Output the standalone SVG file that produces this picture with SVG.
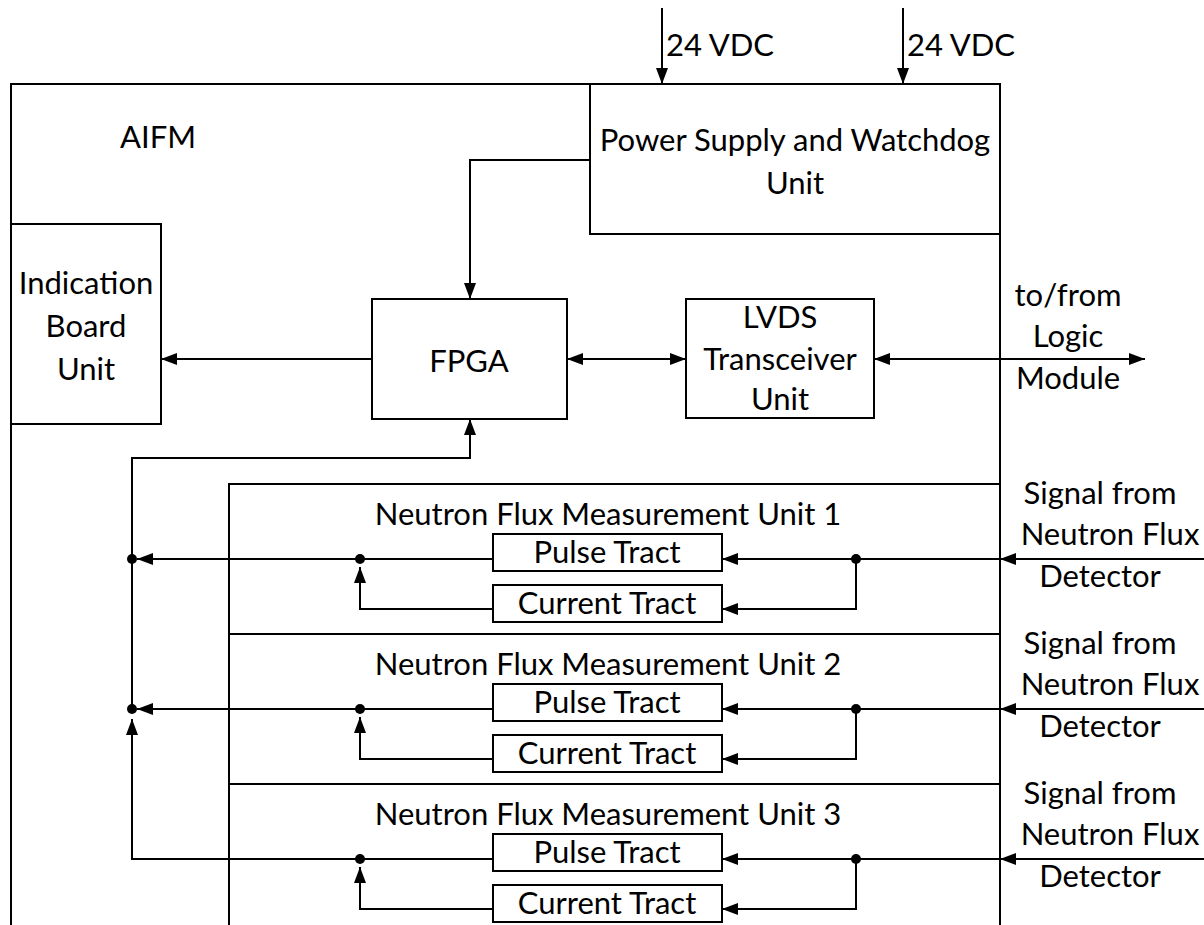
<svg xmlns="http://www.w3.org/2000/svg" width="1204" height="925" viewBox="0 0 1204 925">
<defs>
<style>
.ln{fill:none;stroke:#000;stroke-width:2}
.bx{fill:#fff;stroke:#000;stroke-width:2}
.t{font-family:Lato,"Open Sans","Liberation Sans",sans-serif;font-size:31px;fill:#000}
.c{text-anchor:middle}
.dot{fill:#000}
</style>
<marker id="ah" markerUnits="userSpaceOnUse" markerWidth="16" markerHeight="12" refX="16" refY="6" orient="auto-start-reverse">
<path d="M0,0 L16,6 L0,12 z" fill="#000"/>
</marker>
</defs>
<rect width="1204" height="925" fill="#fff"/>
<g id="aifm">
<path class="ln" d="M11,925 V84 H1000 V925"/>
<text class="t" x="120" y="148">AIFM</text>
</g>
<g id="psu">
<rect class="bx" x="590" y="84" width="410" height="150"/>
<text class="t c" x="795" y="151">Power Supply and Watchdog</text>
<text class="t c" x="795" y="194">Unit</text>
</g>
<g id="indication">
<rect class="bx" x="11" y="224" width="150" height="200"/>
<text class="t c" x="86" y="294">Indication</text>
<text class="t c" x="86" y="337">Board</text>
<text class="t c" x="86" y="380">Unit</text>
</g>
<g id="fpga">
<rect class="bx" x="372" y="299" width="195" height="120"/>
<text class="t c" x="469" y="372">FPGA</text>
</g>
<g id="lvds">
<rect class="bx" x="686" y="299" width="188" height="119"/>
<text class="t c" x="780" y="328">LVDS</text>
<text class="t c" x="780" y="370">Transceiver</text>
<text class="t c" x="780" y="410">Unit</text>
</g>
<g id="unit1">
<path class="ln" d="M229,634 V484 H1000"/>
<text class="t c" x="608" y="525">Neutron Flux Measurement Unit 1</text>
<rect class="bx" x="493" y="534" width="229" height="37"/>
<text class="t c" x="607" y="563">Pulse Tract</text>
<rect class="bx" x="493" y="585" width="229" height="37"/>
<text class="t c" x="607" y="614">Current Tract</text>
</g>
<g id="unit2">
<path class="ln" d="M229,784 V634 H1000"/>
<text class="t c" x="608" y="675">Neutron Flux Measurement Unit 2</text>
<rect class="bx" x="493" y="684" width="229" height="37"/>
<text class="t c" x="607" y="713">Pulse Tract</text>
<rect class="bx" x="493" y="735" width="229" height="37"/>
<text class="t c" x="607" y="764">Current Tract</text>
</g>
<g id="unit3">
<path class="ln" d="M229,925 V784 H1000"/>
<text class="t c" x="608" y="825">Neutron Flux Measurement Unit 3</text>
<rect class="bx" x="493" y="834" width="229" height="37"/>
<text class="t c" x="607" y="863">Pulse Tract</text>
<rect class="bx" x="493" y="885" width="229" height="37"/>
<text class="t c" x="607" y="914">Current Tract</text>
</g>
<g id="labels">
<text class="t" x="666" y="56">24 VDC</text>
<text class="t" x="907" y="56">24 VDC</text>
<text class="t c" x="1068" y="306">to/from</text>
<text class="t c" x="1068" y="347">Logic</text>
<text class="t c" x="1068" y="389">Module</text>
<text class="t c" x="1100" y="504">Signal from</text>
<text class="t c" x="1110" y="545">Neutron Flux</text>
<text class="t c" x="1100" y="587">Detector</text>
<text class="t c" x="1100" y="654">Signal from</text>
<text class="t c" x="1110" y="695">Neutron Flux</text>
<text class="t c" x="1100" y="737">Detector</text>
<text class="t c" x="1100" y="804">Signal from</text>
<text class="t c" x="1110" y="845">Neutron Flux</text>
<text class="t c" x="1100" y="887">Detector</text>
</g>
<g id="connectors">
<path class="ln" d="M662,8 V84" marker-end="url(#ah)"/>
<path class="ln" d="M903,8 V84" marker-end="url(#ah)"/>
<path class="ln" d="M590,160 H470 V299" marker-end="url(#ah)"/>
<path class="ln" d="M372,359 H161" marker-end="url(#ah)"/>
<path class="ln" d="M567,359 H686" marker-start="url(#ah)" marker-end="url(#ah)"/>
<path class="ln" d="M874,359 H1145" marker-start="url(#ah)" marker-end="url(#ah)"/>
<path class="ln" d="M132,709 V458 H470 V419" marker-end="url(#ah)"/>
<path class="ln" d="M493,559 H137" marker-end="url(#ah)"/>
<path class="ln" d="M493,709 H137" marker-end="url(#ah)"/>
<path class="ln" d="M493,859 H132 V719" marker-end="url(#ah)"/>
<path class="ln" d="M493,609 H360 V567" marker-end="url(#ah)"/>
<path class="ln" d="M493,759 H360 V717" marker-end="url(#ah)"/>
<path class="ln" d="M493,909 H360 V867" marker-end="url(#ah)"/>
<path class="ln" d="M1204,559 H1000" marker-end="url(#ah)"/>
<path class="ln" d="M1204,709 H1000" marker-end="url(#ah)"/>
<path class="ln" d="M1204,859 H1000" marker-end="url(#ah)"/>
<path class="ln" d="M1000,559 H722" marker-end="url(#ah)"/>
<path class="ln" d="M1000,709 H722" marker-end="url(#ah)"/>
<path class="ln" d="M1000,859 H722" marker-end="url(#ah)"/>
<path class="ln" d="M856,559 V609 H722" marker-end="url(#ah)"/>
<path class="ln" d="M856,709 V759 H722" marker-end="url(#ah)"/>
<path class="ln" d="M856,859 V909 H722" marker-end="url(#ah)"/>
<circle class="dot" cx="132" cy="559" r="5"/>
<circle class="dot" cx="132" cy="709" r="5"/>
<circle class="dot" cx="360" cy="559" r="5"/>
<circle class="dot" cx="360" cy="709" r="5"/>
<circle class="dot" cx="360" cy="859" r="5"/>
<circle class="dot" cx="856" cy="559" r="5"/>
<circle class="dot" cx="856" cy="709" r="5"/>
<circle class="dot" cx="856" cy="859" r="5"/>
</g>
</svg>
